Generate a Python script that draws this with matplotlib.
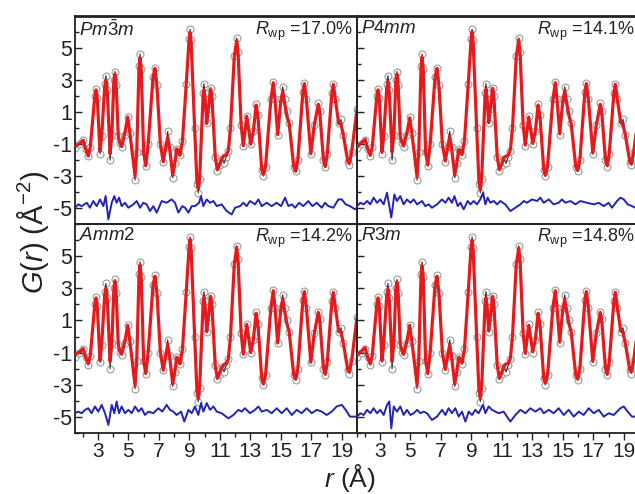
import matplotlib
matplotlib.use("Agg")
import matplotlib.pyplot as plt
from matplotlib.ticker import FixedLocator

plt.rcParams['font.family'] = ['Liberation Sans', 'DejaVu Sans']
plt.rcParams['mathtext.fontset'] = 'custom'
plt.rcParams['mathtext.rm'] = 'Liberation Sans'
plt.rcParams['mathtext.it'] = 'Liberation Sans:italic'
plt.rcParams['mathtext.bf'] = 'Liberation Sans:bold'
plt.rcParams['axes.unicode_minus'] = False

# ---------------- data ----------------
phases = [r'$Pm\bar{3}m$', r'$P4mm$', r'$Amm2$', r'$R3m$']
rwp = ['17.0%', '14.1%', '14.2%', '14.8%']

obs_r = [1.50, 1.75, 2.04, 2.20, 2.37, 2.50, 2.80, 2.88, 2.96, 3.14,
         3.25, 3.45, 3.53, 3.62, 3.80, 3.92, 4.05, 4.12, 4.20, 4.34,
         4.45, 4.56, 4.75, 4.96, 5.10, 5.44, 5.55, 5.70, 5.77, 5.85,
         6.00, 6.14, 6.30, 6.62, 6.75, 6.88, 7.10, 7.29, 7.45, 7.58,
         7.70, 7.91, 8.05, 8.17, 8.28, 8.39, 8.55, 8.80, 8.98, 9.05,
         9.12, 9.35, 9.50, 9.59, 9.68, 9.90, 9.96, 10.03, 10.14, 10.25,
         10.40, 10.48, 10.70, 10.84, 10.98, 11.13, 11.28, 11.42, 11.56, 11.70,
         11.95, 12.11, 12.20, 12.40, 12.54, 12.77, 13.03, 13.20, 13.38, 13.50,
         13.75, 13.86, 14.00, 14.35, 14.51, 14.62, 14.80, 15.00, 15.13, 15.25,
         15.40, 15.55, 15.85, 15.98, 16.12, 16.45, 16.55, 16.68, 16.97, 17.20,
         17.46, 17.55, 17.80, 17.92, 18.05, 18.35, 18.45, 18.58, 18.80, 18.95,
         19.10, 19.40, 19.50, 19.65, 20.00]
obs_G = [-1.25, -1.0, -0.75, -1.3, -1.75, -1.2, 2.0, 2.45, 1.9, -1.6,
         -0.5, 2.8, 3.3, 2.4, -2.0, -0.4, 3.0, 3.55, 2.7, -0.5,
         -0.95, -1.15, -0.4, 0.7, -0.3, -3.25, -1.5, 3.9, 4.65, 3.7,
         -1.5, -2.35, -1.0, 3.2, 3.8, 2.7, -1.0, -2.1, -1.2, -0.2,
         -1.2, -3.1, -2.2, -1.3, -1.4, -1.7, -0.8, 2.8, 5.6, 6.2,
         5.5, 0.0, -3.5, -4.05, -3.2, 2.2, 2.8, 2.2, 0.3, 1.2,
         2.55, 2.0, -1.8, -2.65, -2.3, -1.9, -2.2, -1.8, -1.4, 0.0,
         4.5, 5.65, 4.8, 0.2, -1.1, 0.75, -1.0, -0.2, 1.5, 0.8,
         -2.6, -3.0, -2.4, 1.8, 2.9, 1.8, -0.4, 1.8, 2.6, 1.8,
         1.05, 0.3, -2.4, -2.7, -2.0, 2.3, 2.85, 1.8, -1.6, 0.2,
         1.55, 1.1, -2.0, -2.4, -1.6, 2.2, 2.8, 1.8, 0.3, 0.55,
         -0.4, -2.1, -2.3, -1.5, 1.2]

calc_pm3m = [-1.1, -1.0, -0.75, -1.3, -1.75, -1.2, 2.0, 2.4, 1.9, -1.45,
             -0.5, 2.6, 3.0, 2.3, -1.6, -0.4, 3.0, 3.4, 2.7, -0.5,
             -0.95, -1.15, -0.4, 0.7, -0.3, -3.0, -1.5, 3.8, 4.4, 3.6,
             -1.5, -2.35, -1.0, 3.2, 3.75, 2.6, -1.0, -2.1, -1.2, -0.55,
             -1.2, -2.95, -2.2, -1.3, -1.4, -1.7, -0.8, 2.8, 5.5, 6.0,
             5.4, 0.0, -3.4, -3.8, -3.1, 2.0, 2.4, 2.0, 0.3, 1.2,
             2.45, 2.0, -1.8, -2.6, -2.3, -1.9, -1.7, -1.7, -1.4, 0.0,
             4.5, 5.5, 4.7, 0.2, -1.1, 0.75, -1.0, -0.2, 1.45, 0.8,
             -2.6, -2.9, -2.4, 1.8, 2.85, 1.8, -0.4, 1.7, 2.3, 1.6,
             0.75, 0.3, -2.4, -2.7, -2.0, 2.3, 2.8, 1.8, -1.6, 0.2,
             1.5, 1.1, -2.0, -2.4, -1.6, 2.2, 2.75, 1.8, 0.3, 0.25,
             -0.4, -2.1, -2.2, -1.5, 1.2]
calc_p4mm = [-1.15, -0.95, -0.7, -1.3, -1.7, -1.2, 2.0, 2.4, 1.9, -1.5,
             -0.5, 2.5, 2.9, 2.2, -1.5, -0.4, 3.0, 3.4, 2.7, -0.55,
             -0.9, -1.1, -0.4, 0.65, -0.3, -3.05, -1.5, 3.8, 4.45, 3.6,
             -1.5, -2.3, -1.0, 3.2, 3.75, 2.6, -1.0, -2.05, -1.2, -0.5,
             -1.2, -2.95, -2.2, -1.35, -1.4, -1.65, -0.8, 2.8, 5.5, 6.05,
             5.4, 0.0, -3.4, -3.85, -3.1, 2.0, 2.45, 2.0, 0.35, 1.2,
             2.5, 2.0, -1.8, -2.6, -2.3, -1.85, -1.75, -1.7, -1.35, 0.0,
             4.5, 5.55, 4.7, 0.2, -1.05, 0.7, -0.95, -0.2, 1.45, 0.8,
             -2.6, -2.95, -2.4, 1.8, 2.85, 1.8, -0.35, 1.7, 2.35, 1.6,
             0.8, 0.3, -2.4, -2.65, -2.0, 2.3, 2.8, 1.8, -1.55, 0.2,
             1.5, 1.1, -2.0, -2.35, -1.6, 2.2, 2.75, 1.8, 0.35, 0.2,
             -0.4, -2.1, -2.25, -1.5, 1.15]
calc_amm2 = [-1.1, -1.0, -0.75, -1.3, -1.7, -1.2, 2.0, 2.4, 1.9, -1.5,
             -0.5, 2.6, 3.0, 2.3, -1.55, -0.4, 3.0, 3.45, 2.7, -0.5,
             -0.95, -1.1, -0.4, 0.7, -0.3, -3.05, -1.5, 3.8, 4.45, 3.6,
             -1.5, -2.3, -1.0, 3.2, 3.75, 2.65, -1.0, -2.1, -1.2, -0.5,
             -1.2, -2.95, -2.2, -1.3, -1.4, -1.7, -0.8, 2.8, 5.5, 6.05,
             5.4, 0.0, -3.4, -3.85, -3.1, 2.0, 2.45, 2.0, 0.3, 1.2,
             2.5, 2.0, -1.8, -2.6, -2.3, -1.9, -1.75, -1.7, -1.4, 0.0,
             4.5, 5.55, 4.7, 0.2, -1.1, 0.75, -1.0, -0.2, 1.45, 0.8,
             -2.6, -2.95, -2.4, 1.8, 2.85, 1.8, -0.4, 1.7, 2.35, 1.6,
             0.8, 0.3, -2.4, -2.65, -2.0, 2.3, 2.8, 1.8, -1.6, 0.2,
             1.5, 1.1, -2.0, -2.35, -1.6, 2.2, 2.75, 1.8, 0.3, 0.3,
             -0.4, -2.1, -2.2, -1.5, 1.2]
calc_r3m = [-1.15, -0.95, -0.7, -1.3, -1.7, -1.2, 2.0, 2.4, 1.9, -1.5,
            -0.5, 2.55, 2.95, 2.25, -1.55, -0.4, 3.0, 3.4, 2.7, -0.5,
            -0.9, -1.1, -0.4, 0.7, -0.3, -3.0, -1.5, 3.8, 4.4, 3.6,
            -1.5, -2.3, -1.0, 3.2, 3.75, 2.65, -1.0, -2.05, -1.2, -0.5,
            -1.2, -2.95, -2.2, -1.3, -1.4, -1.65, -0.8, 2.8, 5.5, 6.0,
            5.4, 0.0, -3.4, -3.8, -3.1, 2.0, 2.4, 2.0, 0.35, 1.2,
            2.5, 2.0, -1.8, -2.6, -2.3, -1.85, -1.7, -1.7, -1.35, 0.0,
            4.5, 5.5, 4.7, 0.2, -1.05, 0.7, -0.95, -0.2, 1.45, 0.8,
            -2.6, -2.9, -2.4, 1.8, 2.85, 1.8, -0.35, 1.7, 2.3, 1.6,
            0.8, 0.3, -2.4, -2.65, -2.0, 2.3, 2.8, 1.8, -1.55, 0.2,
            1.5, 1.1, -2.0, -2.35, -1.6, 2.2, 2.75, 1.8, 0.35, 0.25,
            -0.4, -2.1, -2.2, -1.5, 1.2]

# difference curves (values relative to their offset of -5)
diff_pm3m_r = [1.50, 1.72, 1.94, 2.27, 2.48, 2.70, 2.92, 3.14, 3.36, 3.51, 3.69, 3.91,
               4.08, 4.23, 4.39, 4.56, 4.78, 5.00, 5.33, 5.55, 5.77, 5.98, 6.20, 6.42,
               6.64, 6.86, 7.19, 7.51, 7.84, 8.06, 8.28, 8.54, 8.72, 8.94, 9.16, 9.37,
               9.64, 9.77, 9.92, 10.14, 10.36, 10.58, 10.80, 11.12, 11.45, 11.78, 12.00,
               12.33, 12.55, 12.76, 12.98, 13.31, 13.53, 13.75, 14.08, 14.40, 14.73,
               15.02, 15.28, 15.50, 15.72, 15.94, 16.20, 16.48, 16.81, 17.07, 17.36,
               17.69, 17.90, 18.12, 18.45, 18.78, 19.00, 19.26, 19.54, 19.87, 20.00]
diff_pm3m = [0.02, 0.23, 0.12, 0.33, 0.02, 0.44, 0.12, 0.54, 0.12, 0.75, -0.71, 0.33,
             0.75, 0.33, 0.65, 0.12, 0.33, 0.02, 0.23, 0.44, 0.02, 0.33, 0.23, -0.19,
             0.12, -0.29, 0.44, 0.33, 0.54, 0.33, -0.29, 0.12, 0.02, -0.29, 0.12, 0.12,
             0.33, 0.75, 0.12, 0.54, 0.33, 0.44, 0.12, 0.23, -0.19, -0.40, 0.02,
             0.12, 0.33, 0.12, 0.44, 0.23, 0.54, 0.12, 0.33, 0.12, 0.33,
             0.12, 0.65, 0.12, 0.23, 0.02, 0.33, 0.12, 0.44, 0.12, 0.33,
             0.02, 0.33, 0.12, 0.02, 0.54, 0.54, 0.23, 0.12, -0.08, 0.02]

diff_p4mm_r = [1.50, 1.72, 1.94, 2.16, 2.37, 2.59, 2.81, 3.03, 3.25, 3.47, 3.75, 3.95,
               4.12, 4.34, 4.56, 4.78, 5.00, 5.22, 5.44, 5.77, 5.98, 6.20, 6.42, 6.75,
               7.08, 7.30, 7.51, 7.73, 7.89, 8.11, 8.28, 8.50, 8.76, 8.94, 9.16, 9.37,
               9.59, 9.77, 9.92, 10.07, 10.25, 10.47, 10.69, 10.90, 11.23, 11.56, 11.89,
               12.22, 12.44, 12.65, 12.98, 13.31, 13.53, 13.75, 14.08, 14.40, 14.73,
               14.95, 15.17, 15.50, 15.83, 16.15, 16.59, 17.03, 17.36, 17.69, 18.01,
               18.23, 18.56, 18.78, 19.00, 19.26, 19.54, 19.76, 20.00]
diff_p4mm = [0.12, 0.33, 0.23, 0.44, 0.23, 0.65, 0.33, 0.54, 0.23, 0.96, -0.60, 0.85,
             0.44, 0.75, 0.23, 0.54, 0.33, 0.54, 0.23, 0.44, 0.12, 0.23, 0.02, 0.23,
             0.54, 0.33, 0.65, 0.33, 0.75, 0.12, 0.33, -0.08, 0.44, 0.23, 0.44, 0.23,
             0.54, 0.96, 0.23, 0.65, 0.33, 0.44, 0.23, 0.44, 0.23, -0.19, 0.02,
             0.23, 0.44, 0.33, 0.54, 0.44, 0.65, 0.33, 0.54, 0.23, 0.33,
             0.54, 0.33, 0.44, 0.23, 0.44, 0.33, 0.23, 0.33, 0.12, 0.33,
             0.02, 0.44, 0.65, 0.54, 0.23, 0.12, 0.02, 0.02]

diff_amm2_r = [1.50, 1.72, 1.94, 2.16, 2.37, 2.59, 2.81, 3.03, 3.25, 3.47, 3.69, 3.91,
               4.08, 4.23, 4.39, 4.56, 4.78, 5.00, 5.22, 5.44, 5.66, 5.87, 6.09, 6.31,
               6.64, 6.97, 7.23, 7.51, 7.73, 7.95, 8.17, 8.46, 8.67, 8.94, 9.16, 9.37,
               9.59, 9.77, 9.92, 10.14, 10.36, 10.58, 10.80, 11.12, 11.56, 11.89, 12.22,
               12.44, 12.65, 12.98, 13.31, 13.53, 13.75, 14.08, 14.40, 14.73, 15.06,
               15.39, 15.72, 16.05, 16.37, 16.70, 17.03, 17.36, 17.69, 18.01, 18.34,
               18.67, 19.00, 19.26, 19.54, 20.00]
diff_amm2 = [0.23, 0.33, 0.23, 0.44, 0.54, 0.23, 0.65, 0.33, 0.75, 0.23, -0.50, 0.75,
             0.23, 0.96, 0.23, 0.65, 0.23, 0.44, 0.23, 0.65, 0.33, 0.54, 0.12, 0.33,
             0.23, 0.54, 0.33, 0.75, 0.44, 0.33, 0.12, 0.33, -0.29, 0.44, 0.23, 0.65,
             0.12, 0.86, 0.33, 0.86, 0.44, 0.65, 0.33, 0.23, -0.09, 0.12, 0.44,
             0.33, 0.54, 0.23, 0.44, 0.65, 0.33, 0.44, 0.23, 0.54, 0.23,
             0.54, 0.12, 0.44, 0.23, 0.54, 0.23, 0.44, 0.33, 0.12, 0.33,
             0.65, 0.75, 0.44, 0.02, 0.02]

diff_r3m_r = [1.50, 1.72, 1.94, 2.16, 2.37, 2.59, 2.81, 3.03, 3.25, 3.47, 3.62, 3.75,
              3.91, 4.12, 4.34, 4.56, 4.78, 5.00, 5.22, 5.44, 5.66, 5.87, 6.09, 6.42,
              6.75, 7.08, 7.30, 7.51, 7.73, 7.95, 8.17, 8.39, 8.61, 8.83, 9.05, 9.26,
              9.48, 9.77, 9.92, 10.14, 10.36, 10.58, 10.80, 11.12, 11.56, 11.89, 12.22,
              12.55, 12.87, 13.20, 13.53, 13.75, 14.08, 14.40, 14.73, 15.06, 15.39,
              15.72, 16.05, 16.37, 16.70, 17.03, 17.36, 17.69, 18.01, 18.34, 18.78,
              19.00, 19.26, 19.54, 19.76, 20.00]
diff_r3m = [0.02, 0.23, 0.12, 0.44, 0.23, 0.54, 0.23, 0.44, 0.12, 0.75, 0.96, -0.71,
            0.65, 0.33, 0.65, 0.12, 0.44, 0.12, 0.23, 0.44, 0.23, 0.33, 0.23, -0.19,
            0.02, 0.44, 0.12, 0.54, 0.23, 0.54, 0.02, 0.33, -0.29, 0.33, 0.12, 0.44,
            0.23, 0.75, 0.23, 0.65, 0.44, 0.33, 0.23, 0.33, -0.29, 0.12, 0.44,
            0.23, 0.54, 0.33, 0.54, 0.23, 0.44, 0.23, 0.54, 0.12, 0.44,
            0.02, 0.33, 0.12, 0.54, 0.23, 0.44, 0.02, 0.23, 0.12, 0.54,
            0.65, 0.33, 0.02, 0.02, 0.02]

calcs = [calc_pm3m, calc_p4mm, calc_amm2, calc_r3m]
diffs_r = [diff_pm3m_r, diff_p4mm_r, diff_amm2_r, diff_r3m_r]
diffs = [diff_pm3m, diff_p4mm, diff_amm2, diff_r3m]
diff_offset = -5

# ---------------- figure ----------------
W, H = 635, 494
fig = plt.figure(figsize=(W / 100, H / 100), dpi=100)

x_left = [75, 357]
pw = 282
rows = [(16.5, 224), (224, 433)]

RED = '#e41a1c'
BLUE = '#2323b4'
INK = '#222222'

for i in range(4):
    row, col = divmod(i, 2)
    top, bot = rows[row]
    ax = fig.add_axes([x_left[col] / W, 1 - bot / H, pw / W, (bot - top) / H])
    ax.set_facecolor('none')
    # observed: open gray circles joined by a thin dark line
    ax.plot(obs_r, obs_G, color='#333333', lw=0.8, zorder=2)
    ax.plot(obs_r, obs_G, ls='none', marker='o', ms=5, mfc='white',
            mec='#9a9a9a', mew=0.8, zorder=1)
    # calculated
    ax.plot(obs_r, calcs[i], color=RED, lw=2.3, solid_joinstyle='round',
            solid_capstyle='round', zorder=3)
    # difference
    ax.plot(diffs_r[i], [d + diff_offset for d in diffs[i]], color=BLUE, lw=1.4, zorder=3)

    ax.set_xlim(1.5, 20)
    ax.set_ylim(-6, 7)
    ax.xaxis.set_major_locator(FixedLocator([3, 5, 7, 9, 11, 13, 15, 17, 19]))
    ax.xaxis.set_minor_locator(FixedLocator([2, 4, 6, 8, 10, 12, 14, 16, 18, 20]))
    ax.yaxis.set_major_locator(FixedLocator([-5, -3, -1, 1, 3, 5]))
    ax.yaxis.set_minor_locator(FixedLocator([-6, -4, -2, 0, 2, 4, 6]))
    ax.tick_params(axis='x', which='both', direction='out', top=False,
                   labelsize=15, pad=1.5, width=1, color=INK, labelcolor=INK)
    ax.tick_params(axis='x', which='major', length=5)
    ax.tick_params(axis='x', which='minor', length=3)
    ax.tick_params(axis='y', which='both', direction='in', right=False,
                   labelsize=15.5, pad=2, width=1, color=INK, labelcolor=INK)
    ax.tick_params(axis='y', which='major', length=5)
    ax.tick_params(axis='y', which='minor', length=3)
    if row == 0:
        ax.tick_params(axis='x', which='both', bottom=False, labelbottom=False)
    if col == 1:
        ax.tick_params(axis='y', labelleft=False)
    for s in ax.spines.values():
        s.set_color(INK)
        s.set_linewidth(1.3)
    if row == 0:
        ax.spines['top'].set_linewidth(2.0)

    ax.text(0.013, 0.985, phases[i], transform=ax.transAxes, ha='left', va='top',
            fontsize=13.5, color=INK)
    ax.text(0.985, 0.985, r'$R_{\mathrm{wp}}$ =' + rwp[i], transform=ax.transAxes,
            ha='right', va='top', fontsize=13, color=INK)

fig.text(33 / W, 1 - 232 / H, r'$G$($r$) (Å$^{-2}$)', rotation=90, ha='center',
         va='center', fontsize=21, color=INK)
fig.text(350 / W, 1 - 487 / H, r'$r$ (Å)', ha='center', va='baseline',
         fontsize=19, color=INK)

fig.savefig('out.png', dpi=100)
